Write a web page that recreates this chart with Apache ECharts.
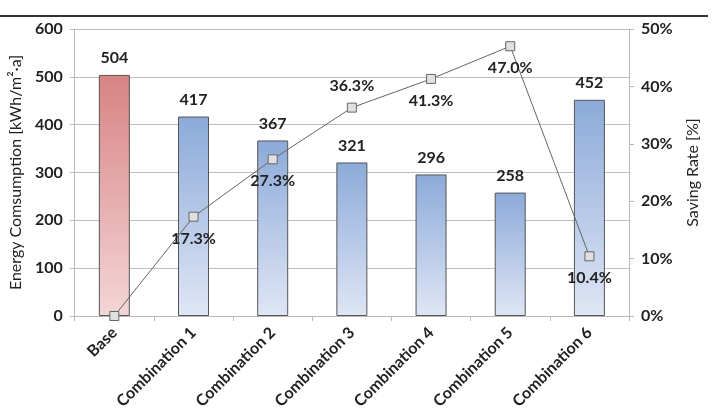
<!DOCTYPE html>
<html>
<head>
<meta charset="utf-8">
<script src="https://cdn.jsdelivr.net/npm/echarts@6/dist/echarts.min.js"></script>
<style>html,body{margin:0;padding:0;background:#fff}#c{width:712px;height:419px}</style>
</head>
<body>
<div id="c"></div>
<script>
const categories = ['Base', 'Combination 1', 'Combination 2', 'Combination 3', 'Combination 4', 'Combination 5', 'Combination 6'];
const energy = [504, 417, 367, 321, 296, 258, 452];
const savingRate = [0, 17.3, 27.3, 36.3, 41.3, 47.0, 10.4];
const savingLabelPos = ['none', 'bottom', 'bottom', 'top', 'bottom', 'bottom', 'bottom'];

const FONT = 'Lato, "Open Sans", sans-serif';
const chart = echarts.init(document.getElementById('c'));

function grad(top, bottom) {
  return new echarts.graphic.LinearGradient(0, 0, 0, 1, [{offset: 0, color: top}, {offset: 1, color: bottom}]);
}

const barData = energy.map((v, i) => ({
  value: v,
  itemStyle: {
    color: i === 0 ? grad('#d88383', '#f3d6d6') : grad('#8caad9', '#dfe6f5')
  }
}));

const lineData = savingRate.map((v, i) => ({
  value: v,
  label: savingLabelPos[i] === 'none' ? {show: false} : {show: true, position: savingLabelPos[i]}
}));

chart.setOption({
  animation: false,
  backgroundColor: '#fff',
  grid: {left: 70, right: 83, top: 29, bottom: 103},
  graphic: [{
    type: 'line',
    shape: {x1: 0, y1: 16, x2: 708, y2: 16},
    style: {stroke: '#333', lineWidth: 2}
  }],
  xAxis: {
    type: 'category',
    data: categories,
    axisLine: {lineStyle: {color: '#b8b8b8'}},
    axisTick: {show: true, length: 5, lineStyle: {color: '#b8b8b8'}},
    axisLabel: {rotate: 45, color: '#222', fontFamily: FONT, fontWeight: 'bold', fontSize: 16, margin: 14, interval: 0}
  },
  yAxis: [{
    type: 'value',
    min: 0, max: 600, interval: 100,
    name: 'Energy Comsumption [kWh/m²·a]',
    nameLocation: 'middle',
    nameGap: 49,
    nameRotate: 90,
    nameTextStyle: {color: '#222', fontFamily: FONT, fontSize: 16},
    axisLine: {show: true, lineStyle: {color: '#b8b8b8'}},
    axisTick: {show: true, length: 5, lineStyle: {color: '#b8b8b8'}},
    axisLabel: {color: '#222', fontFamily: FONT, fontWeight: 'bold', fontSize: 16, margin: 12},
    splitLine: {lineStyle: {color: '#bdbdbd'}}
  }, {
    type: 'value',
    min: 0, max: 50, interval: 10,
    position: 'right',
    name: 'Saving Rate [%]',
    nameLocation: 'middle',
    nameGap: 56,
    nameRotate: 90,
    nameTextStyle: {color: '#222', fontFamily: FONT, fontSize: 16},
    axisLine: {show: true, lineStyle: {color: '#b8b8b8'}},
    axisTick: {show: true, length: 5, lineStyle: {color: '#b8b8b8'}},
    axisLabel: {color: '#222', fontFamily: FONT, fontWeight: 'bold', fontSize: 16, margin: 12, formatter: '{value}%'},
    splitLine: {show: false}
  }],
  series: [{
    type: 'bar',
    data: barData,
    barWidth: 31,
    yAxisIndex: 0,
    itemStyle: {borderColor: '#555', borderWidth: 1},
    label: {show: true, position: 'top', distance: 9, color: '#222', fontFamily: FONT, fontWeight: 'bold', fontSize: 16}
  }, {
    type: 'line',
    data: lineData,
    yAxisIndex: 1,
    symbol: 'rect',
    symbolSize: 9,
    lineStyle: {color: '#666', width: 1},
    itemStyle: {color: '#e0e0e0', borderColor: '#666', borderWidth: 1},
    label: {color: '#222', fontFamily: FONT, fontWeight: 'bold', fontSize: 16, distance: 9, formatter: p => p.value.toFixed(1) + '%'},
    z: 5
  }]
});
</script>
</body>
</html>
